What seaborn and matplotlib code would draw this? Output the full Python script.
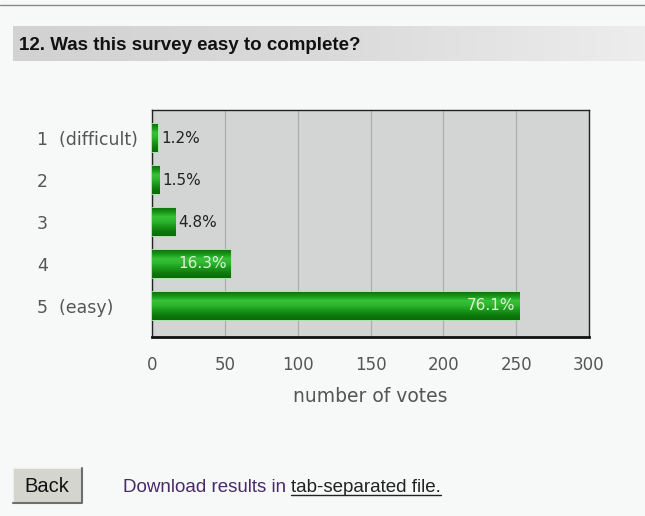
import numpy as np
import matplotlib
matplotlib.use('Agg')
import matplotlib.pyplot as plt
import seaborn as sns
from matplotlib.colors import LinearSegmentedColormap
from matplotlib.patches import Rectangle

# survey answers and vote counts
categories = ['1  (difficult)', '2', '3', '4', '5  (easy)']
votes = [4, 5, 16, 54, 252]
pct_labels = ['1.2%', '1.5%', '4.8%', '16.3%', '76.1%']
x_ticks = [0, 50, 100, 150, 200, 250, 300]

title = '12. Was this survey easy to complete?'
x_label = 'number of votes'

sns.set_style('white')
plt.rcParams['font.family'] = ['DejaVu Sans']
arial = ['Liberation Sans', 'DejaVu Sans']

W, H = 645, 516
fig = plt.figure(figsize=(6.45, 5.16), dpi=100, facecolor='#f6f9f8')

# title band with a soft gray gradient
band = fig.add_axes([13 / W, 1 - 61 / H, 1 - 13 / W, 35 / H])
band.imshow(np.linspace(0, 1, 256).reshape(1, -1), aspect='auto',
            cmap=LinearSegmentedColormap.from_list('band', ['#d2d2d2', '#dadada', '#ededed']),
            extent=[0, 1, 0, 1])
band.set_axis_off()
fig.text(19 / W, 1 - 50 / H, title, family=arial, weight='bold',
         fontsize=13.5, color='#111111', va='baseline', ha='left')

# thin rule at the very top
fig.add_artist(plt.Line2D([0, 1], [1 - 5 / H, 1 - 5 / H], color='#8a8a8a', lw=1))

ax = fig.add_axes([152 / W, 1 - 337 / H, 437 / W, 227 / H])
ax.set_facecolor('#d3d5d4')
sns.barplot(x=votes, y=categories, orient='h', color='#1c9c1c', width=0.67,
            edgecolor='#a4e6a0', linewidth=1.2, ax=ax, zorder=3)

# cylinder-like shading on every bar
green = LinearSegmentedColormap.from_list(
    'bar', ['#0a700a', '#189518', '#38c238', '#2db42d', '#1a981a', '#0e7c0e', '#0a6a0a'])
grad = np.linspace(0, 1, 64).reshape(-1, 1)
for patch in ax.patches:
    x0, y0 = patch.get_x(), patch.get_y()
    w, h = patch.get_width(), patch.get_height()
    im = ax.imshow(grad, cmap=green, aspect='auto', extent=[x0, x0 + w, y0 + h, y0],
                   zorder=3.5)
    im.set_clip_path(patch)

for i, (v, lab) in enumerate(zip(votes, pct_labels)):
    if v < 30:
        ax.text(v + 2.3, i, lab, ha='left', va='center', fontsize=11, color='#222222', zorder=5)
    else:
        ax.text(v - 2.5, i, lab, ha='right', va='center', fontsize=11, color='#dcf2d4', zorder=5)

ax.set_aspect('auto')
ax.set_xlim(0, 300)
ax.set_ylim(4.74, -0.67)
ax.set_xticks(x_ticks)
ax.set_xticklabels([str(t) for t in x_ticks])
ax.xaxis.grid(True, color='#acaeac', lw=0.9, zorder=1)
ax.set_axisbelow(True)
ax.tick_params(axis='x', direction='out', length=7, width=1.2, color='#111111',
               labelsize=12, labelcolor='#555555', pad=7)
ax.tick_params(axis='y', length=0, labelsize=12.5, labelcolor='#555555', pad=0)
for lbl in ax.get_yticklabels():
    lbl.set_horizontalalignment('left')
    lbl.set_x((37 - 152) / 437)
ax.set_xlabel(x_label, fontsize=13.5, color='#555555', labelpad=9)
ax.set_ylabel('')
for side in ['top', 'left', 'right']:
    ax.spines[side].set_color('#222222')
    ax.spines[side].set_linewidth(1)
ax.spines['bottom'].set_color('#111111')
ax.spines['bottom'].set_linewidth(2)

# "Back" button and download line
fig.add_artist(Rectangle((13 / W, 1 - 503 / H), 69 / W, 35 / H,
                         transform=fig.transFigure, facecolor='#d5d5d0',
                         edgecolor='none'))
fig.add_artist(plt.Line2D([13 / W, 13 / W, 82 / W], [1 - 503 / H, 1 - 468 / H, 1 - 468 / H],
                          color='#f4f4f2', lw=1.2))
fig.add_artist(plt.Line2D([13 / W, 82 / W, 82 / W], [1 - 503 / H, 1 - 503 / H, 1 - 468 / H],
                          color='#6e6e6e', lw=1.5))
fig.text(47 / W, 1 - 486 / H, 'Back', family=arial, fontsize=14.5,
         color='#111111', ha='center', va='center')
t1 = fig.text(123 / W, 1 - 492 / H, 'Download results in ', family=arial,
              fontsize=13.5, color='#4a2a6a', ha='left', va='baseline')
fig.canvas.draw()
bb = t1.get_window_extent()
t2 = fig.text(bb.x1 / W, 1 - 492 / H, 'tab-separated file.', family=arial,
              fontsize=13.5, color='#222222', ha='left', va='baseline')
bb2 = t2.get_window_extent()
fig.add_artist(plt.Line2D([bb2.x0 / W, bb2.x1 / W], [1 - 495 / H, 1 - 495 / H],
                          color='#222222', lw=1))

fig.savefig('out.png', dpi=100, facecolor=fig.get_facecolor())
